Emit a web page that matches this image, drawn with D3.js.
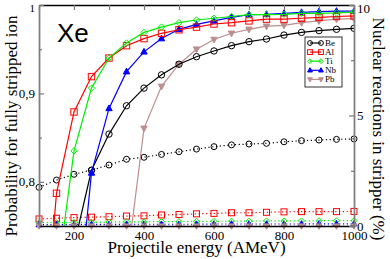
<!DOCTYPE html>
<html>
<head>
<meta charset="utf-8">
<script src="https://cdn.jsdelivr.net/npm/d3@7"></script>
<style>
  body { margin: 0; background: #fff; }
  text { font-family: 'Liberation Serif', 'Times New Roman', serif; }
</style>
</head>
<body>
<div id="chart"></div>
<script>
// energies (AMeV)
const energies = [100, 150, 200, 250, 300, 350, 400, 450, 500, 550, 600, 650, 700, 750, 800, 850, 900, 950, 1000]

// probability for fully stripped ion (left axis), null = not computed
const probBe = [null, null, 0.728, 0.813, 0.854, 0.886, 0.906, 0.921, 0.933, 0.9415, 0.948, 0.954, 0.9585, 0.9615, 0.966, 0.969, 0.971, 0.9725, 0.9736]
const probAl = [0.55, 0.787, 0.879, 0.919, 0.94, 0.954, 0.962, 0.968, 0.972, 0.975, 0.9785, 0.98, 0.982, 0.984, 0.984, 0.985, 0.986, 0.987, 0.9876]
const probTi = [null, 0.686, 0.835, 0.906, 0.94, 0.957, 0.969, 0.975, 0.98, 0.983, 0.985, 0.987, 0.989, 0.989, 0.9895, 0.9906, 0.9906, 0.991, 0.992]
const probNb = [null, null, 0.611, 0.81, 0.883, 0.9246, 0.947, 0.962, 0.9725, 0.978, 0.982, 0.986, 0.989, 0.9895, 0.9906, 0.9917, 0.9925, 0.993, 0.993]
const probPb = [null, null, null, null, null, 0.7025, 0.8605, 0.908, 0.933, 0.95, 0.961, 0.968, 0.9725, 0.976, 0.977, 0.98, 0.982, 0.984, 0.9845]

// nuclear reactions in stripper, % (right axis)
const nucBe = [1.75, 2.08, 2.34, 2.53, 2.76, 3.02, 3.11, 3.24, 3.36, 3.48, 3.59, 3.67, 3.71, 3.74, 3.81, 3.86, 3.89, 3.92, 3.94]
const nucAl = [0.32, 0.35, 0.38, 0.4, 0.42, 0.45, 0.46, 0.5, 0.52, 0.55, 0.57, 0.6, 0.6, 0.62, 0.64, 0.65, 0.65, 0.65, 0.66]
const nucTi = [0.15, 0.15, 0.16, 0.17, 0.18, 0.19, 0.19, 0.2, 0.2, 0.21, 0.21, 0.22, 0.22, 0.23, 0.23, 0.23, 0.24, 0.24, 0.24]
const nucNb = [0.06, 0.06, 0.07, 0.07, 0.07, 0.08, 0.08, 0.08, 0.08, 0.08, 0.09, 0.09, 0.09, 0.09, 0.09, 0.09, 0.1, 0.1, 0.1]
const nucPb = [0, 0, 0, 0, 0, 0, 0, 0, 0, 0, 0, 0, 0, 0, 0, 0, 0, 0, 0]

const targets = ['Be', 'Al', 'Ti', 'Nb', 'Pb']
const xTicks = [200, 400, 600, 800, 1000]
const leftTicks = [0.8, 0.9, 1]
const rightTicks = [0, 5, 10]

const colors = { Be: '#000000', Al: '#ff0000', Ti: '#00ee00', Nb: '#0000ff', Pb: '#bc8f8f' }
const shapes = { Be: 'circle', Al: 'square', Ti: 'diamond', Nb: 'up', Pb: 'down' }

const margin = { top: 5, left: 39, right: 36, bottom: 33 }
const width = 390 - margin.left - margin.right
const height = 259 - margin.top - margin.bottom

const root = d3
  .select('#chart')
  .append('svg')
  .attr('width', 390)
  .attr('height', 259)

const svg = root
  .append('g')
  .attr('transform', 'translate(' + margin.left + ',' + margin.top + ')')

const xPositionScale = d3.scaleLinear().domain([100, 1000]).range([0, width])
const yLeft = d3.scaleLinear().domain([0.75, 1]).range([height, 0])
const yRight = d3.scaleLinear().domain([0, 10]).range([height, 0])

svg
  .append('clipPath')
  .attr('id', 'clip')
  .append('rect')
  .attr('width', width)
  .attr('height', height)

function marker(sel, shape, color, r) {
  if (shape === 'circle') {
    sel.append('circle').attr('r', r).attr('fill', 'none').attr('stroke', color)
  } else if (shape === 'square') {
    sel.append('rect').attr('x', -r).attr('y', -r).attr('width', 2 * r).attr('height', 2 * r)
      .attr('fill', 'none').attr('stroke', color)
  } else if (shape === 'diamond') {
    sel.append('path').attr('d', `M0,${-r}L${r},0L0,${r}L${-r},0Z`)
      .attr('fill', 'none').attr('stroke', color)
  } else if (shape === 'up') {
    sel.append('path').attr('d', `M0,${-r * 1.1}L${r},${r * 0.7}L${-r},${r * 0.7}Z`)
      .attr('fill', color).attr('stroke', color)
  } else {
    sel.append('path').attr('d', `M0,${r * 1.1}L${r},${-r * 0.7}L${-r},${-r * 0.7}Z`)
      .attr('fill', color).attr('stroke', color)
  }
}

const probData = { Be: probBe, Al: probAl, Ti: probTi, Nb: probNb, Pb: probPb }
const nucData = { Be: nucBe, Al: nucAl, Ti: nucTi, Nb: nucNb, Pb: nucPb }

// dotted nuclear-reaction curves (right axis)
targets.forEach(t => {
  const pts = energies.map((e, i) => ({ e: e, v: nucData[t][i] }))
  const line = d3.line().x(d => xPositionScale(d.e)).y(d => yRight(d.v))
  svg
    .append('path')
    .attr('d', line(pts))
    .attr('fill', 'none')
    .attr('stroke', colors[t])
    .attr('stroke-width', 1.2)
    .attr('stroke-dasharray', '1.2,2.6')
  svg
    .append('g')
    .selectAll('g')
    .data(pts)
    .enter()
    .append('g')
    .attr('transform', d => 'translate(' + xPositionScale(d.e) + ',' + yRight(d.v) + ')')
    .each(function() {
      marker(d3.select(this), shapes[t], colors[t], 3)
    })
})

// solid stripping probability curves (left axis)
const order = ['Pb', 'Be', 'Nb', 'Al', 'Ti']
order.forEach(t => {
  const pts = energies
    .map((e, i) => ({ e: e, v: probData[t][i] }))
    .filter(d => d.v !== null)
  const line = d3.line().x(d => xPositionScale(d.e)).y(d => yLeft(d.v))
  const g = svg.append('g').attr('clip-path', 'url(#clip)')
  g.append('path')
    .attr('d', line(pts))
    .attr('fill', 'none')
    .attr('stroke', colors[t])
    .attr('stroke-width', 1.2)
  g.selectAll('g')
    .data(pts.filter(d => d.v >= 0.75))
    .enter()
    .append('g')
    .attr('transform', d => 'translate(' + xPositionScale(d.e) + ',' + yLeft(d.v) + ')')
    .each(function() {
      marker(d3.select(this), shapes[t], colors[t], 3.2)
    })
})

// axes
const xAxisBottom = d3.axisBottom(xPositionScale)
  .tickValues(d3.range(100, 1001, 100))
  .tickSizeInner(-5)
  .tickSizeOuter(0)
  .tickPadding(5)
  .tickFormat(d => (xTicks.includes(d) ? d : ''))
svg
  .append('g')
  .attr('class', 'axis x-axis')
  .attr('transform', 'translate(0,' + height + ')')
  .call(xAxisBottom)

const xAxisTop = d3.axisTop(xPositionScale)
  .tickValues(d3.range(100, 1001, 100))
  .tickSizeInner(-5)
  .tickSizeOuter(0)
  .tickFormat('')
svg.append('g').attr('class', 'axis x-top').call(xAxisTop)

const yAxisLeft = d3.axisLeft(yLeft)
  .tickValues([0.8, 0.85, 0.9, 0.95, 1])
  .tickSizeInner(-5)
  .tickSizeOuter(0)
  .tickPadding(4)
  .tickFormat(d => (leftTicks.includes(d) ? String(d).replace('.', ',') : ''))
svg.append('g').attr('class', 'axis y-left').call(yAxisLeft)

const yAxisRight = d3.axisRight(yRight)
  .tickValues([0, 2.5, 5, 7.5, 10])
  .tickSizeInner(-5)
  .tickSizeOuter(0)
  .tickPadding(3)
  .tickFormat(d => (rightTicks.includes(d) ? d : ''))
svg
  .append('g')
  .attr('class', 'axis y-right')
  .attr('transform', 'translate(' + width + ',0)')
  .call(yAxisRight)

svg.selectAll('.axis text')
  .attr('font-family', "'Liberation Serif', serif")
  .attr('font-size', 13)
  .attr('fill', '#000')
// keep the top labels inside the picture
svg.selectAll('.y-left .tick text').filter(d => d === 1).attr('dy', '0.6em').attr('font-size', 11)
svg.selectAll('.y-right .tick text').filter(d => d === 10).attr('dy', '0.55em')
svg.selectAll('.axis .tick line').attr('stroke', '#777').attr('stroke-width', 1.2)
svg.selectAll('.y-left .domain, .y-right .domain').attr('stroke', '#808080').attr('stroke-width', 1.8)
svg.selectAll('.x-axis .domain, .x-top .domain').attr('stroke', '#000').attr('stroke-width', 1.5)
// minor ticks shorter
svg.selectAll('.y-left .tick, .y-right .tick')
  .filter(d => d === 0.85 || d === 0.95 || d === 2.5 || d === 7.5)
  .select('line')
  .attr('x2', function() { return +d3.select(this).attr('x2') > 0 ? 3 : -3 })

// labels
svg
  .append('text')
  .attr('x', 18)
  .attr('y', 37)
  .attr('font-size', 26)
  .style('font-family', "'Liberation Sans', Arial, sans-serif")
  .text('Xe')

root
  .append('text')
  .attr('text-anchor', 'middle')
  .attr('font-size', 17)
  .attr('x', margin.left + width / 2)
  .attr('y', 253)
  .text('Projectile energy (AMeV)')

root
  .append('text')
  .attr('text-anchor', 'middle')
  .attr('font-size', 17)
  .attr('transform', 'translate(17,126) rotate(-90)')
  .text('Probability for fully stripped ion')

root
  .append('text')
  .attr('text-anchor', 'middle')
  .attr('font-size', 17)
  .attr('transform', 'translate(373,129) rotate(90)')
  .text('Nuclear reactions in stripper (%)')

// legend
const legend = root.append('g').attr('transform', 'translate(305,37)')
legend
  .append('rect')
  .attr('width', 37)
  .attr('height', 50)
  .attr('fill', '#fff')
  .attr('stroke', '#000')
  .attr('stroke-width', 0.8)
targets.forEach((t, i) => {
  const row = legend.append('g').attr('transform', 'translate(0,' + (6 + i * 9.1) + ')')
  row.append('line')
    .attr('x1', 5).attr('x2', 16)
    .attr('stroke', colors[t]).attr('stroke-width', 1.2)
  marker(row.append('g').attr('transform', 'translate(5,0)'), shapes[t], colors[t], 2.4)
  marker(row.append('g').attr('transform', 'translate(16,0)'), shapes[t], colors[t], 2.4)
  row.append('text')
    .attr('x', 20)
    .attr('y', 3)
    .attr('font-size', 9)
    .text(t)
})
</script>
</body>
</html>
